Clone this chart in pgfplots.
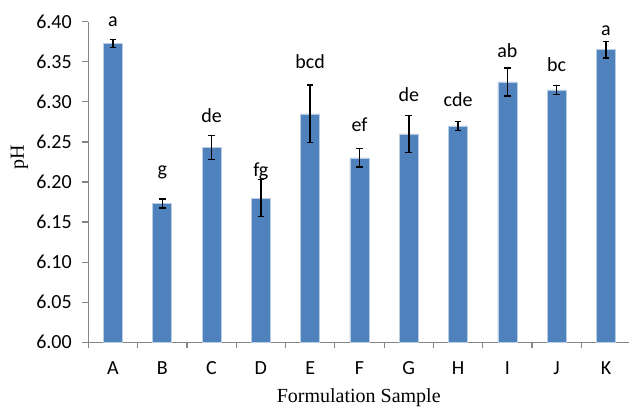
\documentclass[border=0pt]{standalone}
\usepackage{pgfplots}
\pgfplotsset{compat=1.18}
\usepackage{fontspec}
\setmainfont{Carlito}
\newfontfamily\timesfont{Liberation Serif}
\definecolor{barblue}{RGB}{79,129,189}
\definecolor{baredge}{RGB}{185,205,229}
\definecolor{axgray}{RGB}{134,134,134}
\pgfplotstableread{
x y e
0 6.373 0.005
1 6.173 0.0055
2 6.243 0.015
3 6.180 0.0233
4 6.285 0.036
5 6.230 0.0115
6 6.260 0.023
7 6.270 0.0056
8 6.325 0.0175
9 6.315 0.0056
10 6.365 0.010
}\phdata
\pgfplotstableread{
x y l
0 6.3938 a
1 6.2075 g
2 6.2745 de
3 6.2065 fg
4 6.3410 bcd
5 6.2628 ef
6 6.3002 de
7 6.2948 cde
8 6.3551 ab
9 6.3376 bc
10 6.3834 a
}\labdata
\begin{document}
\begin{tikzpicture}[font=\fontsize{20}{24}\selectfont]
\path[use as bounding box] (0,0) rectangle (629pt,407pt);
\begin{axis}[
  at={(88.3pt,64.7pt)}, anchor=south west,
  scale only axis, width=542.3pt, height=320.6pt,
  xmin=-0.5, xmax=10.5, ymin=6.0, ymax=6.4,
  axis x line=bottom, axis y line=left,
  axis line style={axgray, line width=1.5pt, -},
  tick align=outside,
  xtick={0,...,10},
  xticklabels={A,B,C,D,E,F,G,H,I,J,K},
  minor xtick={-0.5,0.5,...,10.5},
  major x tick style={draw=none},
  minor x tick style={axgray, line width=1.2pt},
  minor tick length=6pt,
  major tick length=6pt,
  ytick={6.00,6.05,6.10,6.15,6.20,6.25,6.30,6.35,6.40},
  y tick style={axgray, line width=1.2pt},
  scaled y ticks=false,
  yticklabel style={xshift=-7pt, font=\fontsize{20}{24}\selectfont, /pgf/number format/.cd, fixed, fixed zerofill, precision=2, assume math mode=true},
  xticklabel style={yshift=-10pt, font=\fontsize{20}{24}\selectfont},
  ylabel={pH},
  ylabel style={font=\timesfont\fontsize{20}{24}\selectfont, at={(axis description cs:-0.1269,0.578)}, anchor=center, rotate=0},
  xlabel={Formulation Sample},
  xlabel style={font=\timesfont\fontsize{20}{24}\selectfont, at={(axis description cs:0.4986,-0.187)}, anchor=base},
]
\addplot[ybar, bar width=19pt, fill=barblue, draw=baredge, line width=0.6pt,
  error bars/.cd, y dir=both, y explicit,
  error bar style={black, line width=1.5pt},
  error mark options={rotate=90, black, mark size=3.3pt, line width=1.5pt}]
  table[x=x, y=y, y error=e] {\phdata};
\addplot[draw=none, mark=none, nodes near coords, point meta=explicit symbolic,
  nodes near coords style={anchor=base, inner sep=0pt, font=\fontsize{20}{24}\selectfont, black}]
  table[x=x, y=y, meta=l] {\labdata};
\end{axis}
\end{tikzpicture}
\end{document}
